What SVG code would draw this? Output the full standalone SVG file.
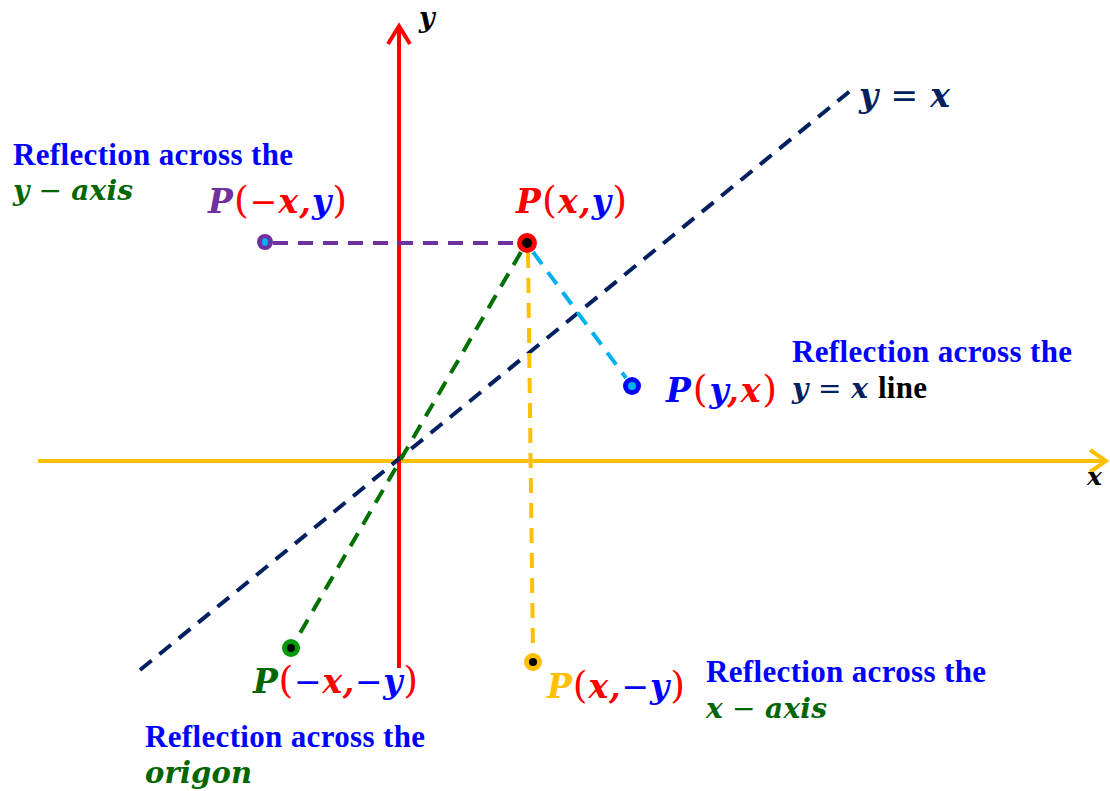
<svg xmlns="http://www.w3.org/2000/svg" width="1110" height="791" viewBox="0 0 1110 791">
<style>
.ref{font-family:"Liberation Serif","Times New Roman",serif;font-weight:bold;font-size:31px;fill:#0000FF}
.m{font-family:"DejaVu Serif","Liberation Serif",serif;font-weight:bold;font-style:italic}
.pn{font-weight:normal;font-style:normal}
.pp{font-weight:normal;font-style:normal;font-size:38px}
.r{fill:#FF0000}.b{fill:#0000FF}.g{fill:#006600}.nv{fill:#002060}.k{fill:#000000}
.dash{fill:none;stroke-width:4;stroke-dasharray:15 10}
</style>
<rect width="1110" height="791" fill="#FFFFFF"/>
<g id="axes">
  <line x1="38" y1="461" x2="1105" y2="461" stroke="#FFC000" stroke-width="4"/>
  <polyline points="1090,450 1106,461 1090,472" fill="none" stroke="#FFC000" stroke-width="4"/>
  <line x1="399" y1="668" x2="399" y2="27" stroke="#FF0000" stroke-width="4"/>
  <polyline points="388,44 399,26 410,44" fill="none" stroke="#FF0000" stroke-width="4"/>
  <text class="m k" x="419" y="27" font-size="27">y</text>
  <text class="m k" x="1087" y="485" font-size="25">x</text>
</g>
<g id="connectors">
  <line id="line-yx" class="dash" x1="140" y1="670" x2="855" y2="87" stroke="#002060" stroke-dasharray="16 10"/>
  <line class="dash" x1="273" y1="243" x2="520" y2="243" stroke="#7030A0"/>
  <line class="dash" x1="533" y1="252" x2="626" y2="378" stroke="#00B0F0"/>
  <line class="dash" x1="521" y1="252" x2="296" y2="640" stroke="#007000"/>
  <line class="dash" x1="528" y1="253" x2="533" y2="653" stroke="#FFC000"/>
</g>
<g id="label-yx">
  <text class="m nv" x="859" y="107" font-size="33" textLength="91" lengthAdjust="spacing">y<tspan class="pn"> = </tspan>x</text>
</g>
<g id="point-xy">
  <circle cx="527" cy="243" r="10" fill="#FF0000"/>
  <circle cx="527" cy="243" r="5" fill="#000000"/>
  <text class="m r" x="516" y="213" font-size="33" textLength="111" lengthAdjust="spacing">P<tspan class="pp">(</tspan>x,<tspan class="b">y</tspan><tspan class="pp">)</tspan></text>
</g>
<g id="point-neg-x-y">
  <circle cx="265" cy="242" r="8" fill="#7030A0"/>
  <ellipse cx="265" cy="242" rx="3" ry="4" fill="#00B0F0"/>
  <text class="m r" x="208" y="213" font-size="33" textLength="139" lengthAdjust="spacing"><tspan fill="#7030A0">P</tspan><tspan class="pp">(</tspan><tspan class="pn">−</tspan>x,<tspan class="b">y</tspan><tspan class="pp">)</tspan></text>
</g>
<g id="point-yx">
  <circle cx="632" cy="386" r="9" fill="#0000FF"/>
  <circle cx="632" cy="386" r="4" fill="#00B0F0"/>
  <text class="m r" x="666" y="402" font-size="33" textLength="111" lengthAdjust="spacing"><tspan class="b">P</tspan><tspan class="pp">(</tspan><tspan class="b">y</tspan>,x<tspan class="pp">)</tspan></text>
</g>
<g id="point-neg-x-neg-y">
  <circle cx="291" cy="648" r="9" fill="#009A00"/>
  <circle cx="291" cy="648" r="4" fill="#000000"/>
  <text class="m r" x="253" y="693" font-size="33" textLength="165" lengthAdjust="spacing"><tspan class="g">P</tspan><tspan class="pp">(</tspan><tspan class="pn b">−</tspan>x,<tspan class="pn b">−</tspan><tspan class="b">y</tspan><tspan class="pp">)</tspan></text>
</g>
<g id="point-x-neg-y">
  <circle cx="533" cy="662" r="9" fill="#FFC000"/>
  <circle cx="533" cy="662" r="4" fill="#000000"/>
  <text class="m r" x="547" y="698" font-size="33" textLength="138" lengthAdjust="spacing"><tspan fill="#FFC000">P</tspan><tspan class="pp">(</tspan>x,<tspan class="pn b">−</tspan><tspan class="b">y</tspan><tspan class="pp">)</tspan></text>
</g>
<g id="note-y-axis">
  <text class="ref" x="13" y="165" textLength="280" lengthAdjust="spacing">Reflection across the</text>
  <text class="m g" x="13" y="200" font-size="28" textLength="120" lengthAdjust="spacing">y<tspan class="pn"> − </tspan>axis</text>
</g>
<g id="note-yx-line">
  <text class="ref" x="792" y="362" textLength="280" lengthAdjust="spacing">Reflection across the</text>
  <text class="m nv" x="792" y="398" font-size="28" textLength="76" lengthAdjust="spacing">y<tspan class="pn"> = </tspan>x</text>
  <text class="ref k" x="878" y="398" font-size="30" textLength="49" lengthAdjust="spacing">line</text>
</g>
<g id="note-x-axis">
  <text class="ref" x="706" y="682" textLength="280" lengthAdjust="spacing">Reflection across the</text>
  <text class="m g" x="706" y="718" font-size="28" textLength="121" lengthAdjust="spacing">x<tspan class="pn"> − </tspan>axis</text>
</g>
<g id="note-origin">
  <text class="ref" x="145" y="747" textLength="280" lengthAdjust="spacing">Reflection across the</text>
  <text class="m g" x="145" y="783" font-size="29" textLength="107" lengthAdjust="spacing">origon</text>
</g>
</svg>
